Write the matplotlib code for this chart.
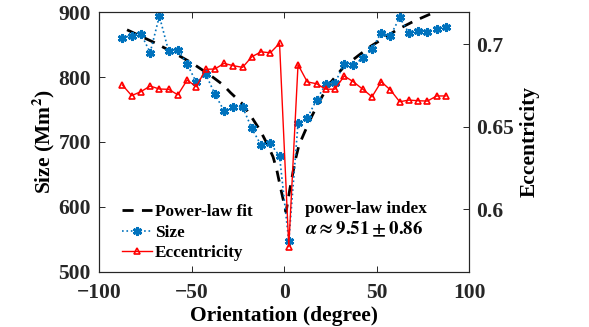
import numpy as np
import matplotlib
matplotlib.use("Agg")
import matplotlib.pyplot as plt

plt.rcParams['font.family'] = ['Liberation Serif', 'DejaVu Serif']
plt.rcParams['font.weight'] = 'bold'
plt.rcParams['mathtext.fontset'] = 'stix'

# orientation bins (degree)
orientation = [-87.5, -82.5, -77.5, -72.5, -67.5, -62.5, -57.5, -52.5, -47.5, -42.5,
               -37.5, -32.5, -27.5, -22.5, -17.5, -12.5, -7.5, -2.5, 2.5, 7.5,
               12.5, 17.5, 22.5, 27.5, 32.5, 37.5, 42.5, 47.5, 52.5, 57.5,
               62.5, 67.5, 72.5, 77.5, 82.5, 87.5]

# mean size (Mm^2)
size = [861, 864, 867, 838, 894, 840, 842, 820, 792, 805,
        774, 748, 754, 754, 721, 695, 698, 678, 547, 729,
        737, 765, 789, 791, 821, 819, 829, 844, 868, 864,
        892, 868, 871, 870, 874, 878]

# mean eccentricity
eccentricity = [0.6752, 0.6688, 0.6712, 0.6746, 0.6728, 0.6726, 0.6693, 0.6782, 0.6742, 0.6847,
                0.6849, 0.6883, 0.6869, 0.6859, 0.6923, 0.6953, 0.6947, 0.7004, 0.5774, 0.6875,
                0.6771, 0.6760, 0.6727, 0.6727, 0.6807, 0.6771, 0.6727, 0.6681, 0.6772, 0.6722,
                0.6651, 0.6661, 0.6657, 0.6655, 0.6686, 0.6686]

# power-law fit curve
fit_theta = [-85, -70, -60, -50, -40, -33, -29, -23, -18, -13, -9, -6, -4, -2, 1,
             3, 6, 8, 11.5, 15, 18, 24, 32, 40, 47, 55, 61, 70, 78, 85]
fit_size = [873, 853, 838, 822, 803, 788, 776, 760, 740, 718, 696, 677, 657, 630, 592,
            626, 672, 695, 718, 740, 757, 788, 815, 833, 848, 862, 873, 886, 896, 905]

axcol = '#262626'

fig = plt.figure(figsize=(5.89, 3.27), dpi=100)
ax = fig.add_axes([0.1686, 0.1691, 0.6277, 0.7933])
ax2 = ax.twinx()

l_fit, = ax.plot(fit_theta, fit_size, '--', color='k', lw=2, dashes=(4, 3))
l_size, = ax.plot(orientation, size, ':', color='#0072BD', lw=1.2,
                  marker=(6, 2, 0), ms=6.5, mew=2, mec='#0072BD')
l_ecc, = ax2.plot(orientation, eccentricity, '-', color='#FF0000', lw=1,
                  marker='^', ms=5, mfc='none', mew=1.2)

ax.set_xlim(-100, 100)
ax.set_ylim(500, 900)
ax2.set_ylim(0.5623, 0.7192)
ax.set_xticks([-100, -50, 0, 50, 100])
ax.set_yticks([500, 600, 700, 800, 900])
ax2.set_yticks([0.6, 0.65, 0.7])
ax2.set_yticklabels(['0.6', '0.65', '0.7'])

for a in (ax, ax2):
    for s in a.spines.values():
        s.set_color(axcol)
        s.set_linewidth(0.8)
ax.tick_params(direction='in', length=4, width=0.7, color=axcol, labelsize=15.5,
               top=True, labelcolor=axcol)
ax.tick_params(axis='x', pad=8)
ax.tick_params(axis='y', pad=6)
ax2.tick_params(direction='in', length=4, width=0.7, color=axcol, labelsize=15.5,
                labelcolor=axcol, pad=5)

ax.set_xlabel('Orientation (degree)', fontsize=15.5, fontweight='bold', labelpad=2)
ax.set_ylabel(r'Size (Mm$^\mathbf{2}$)', fontsize=15.5, fontweight='bold', labelpad=1)
ax2.set_ylabel('Eccentricity', fontsize=15.5, fontweight='bold', labelpad=4)

ax.legend([l_fit, l_size, l_ecc], ['Power-law fit', 'Size', 'Eccentricity'],
          loc='lower left', bbox_to_anchor=(0.035, 0.0), frameon=False,
          fontsize=12.3, handlelength=1.75, handletextpad=0.15, labelspacing=0.28,
          borderaxespad=0.2)

ax.text(0.556, 0.243, 'power-law index', transform=ax.transAxes, fontsize=12.4,
        fontweight='bold', va='center', ha='left')
ax.text(0.556, 0.163, r'$\alpha\approx\mathbf{9.51}\pm\mathbf{0.86}$', transform=ax.transAxes,
        fontsize=13.5, va='center', ha='left')

fig.savefig('out.png', dpi=100)
